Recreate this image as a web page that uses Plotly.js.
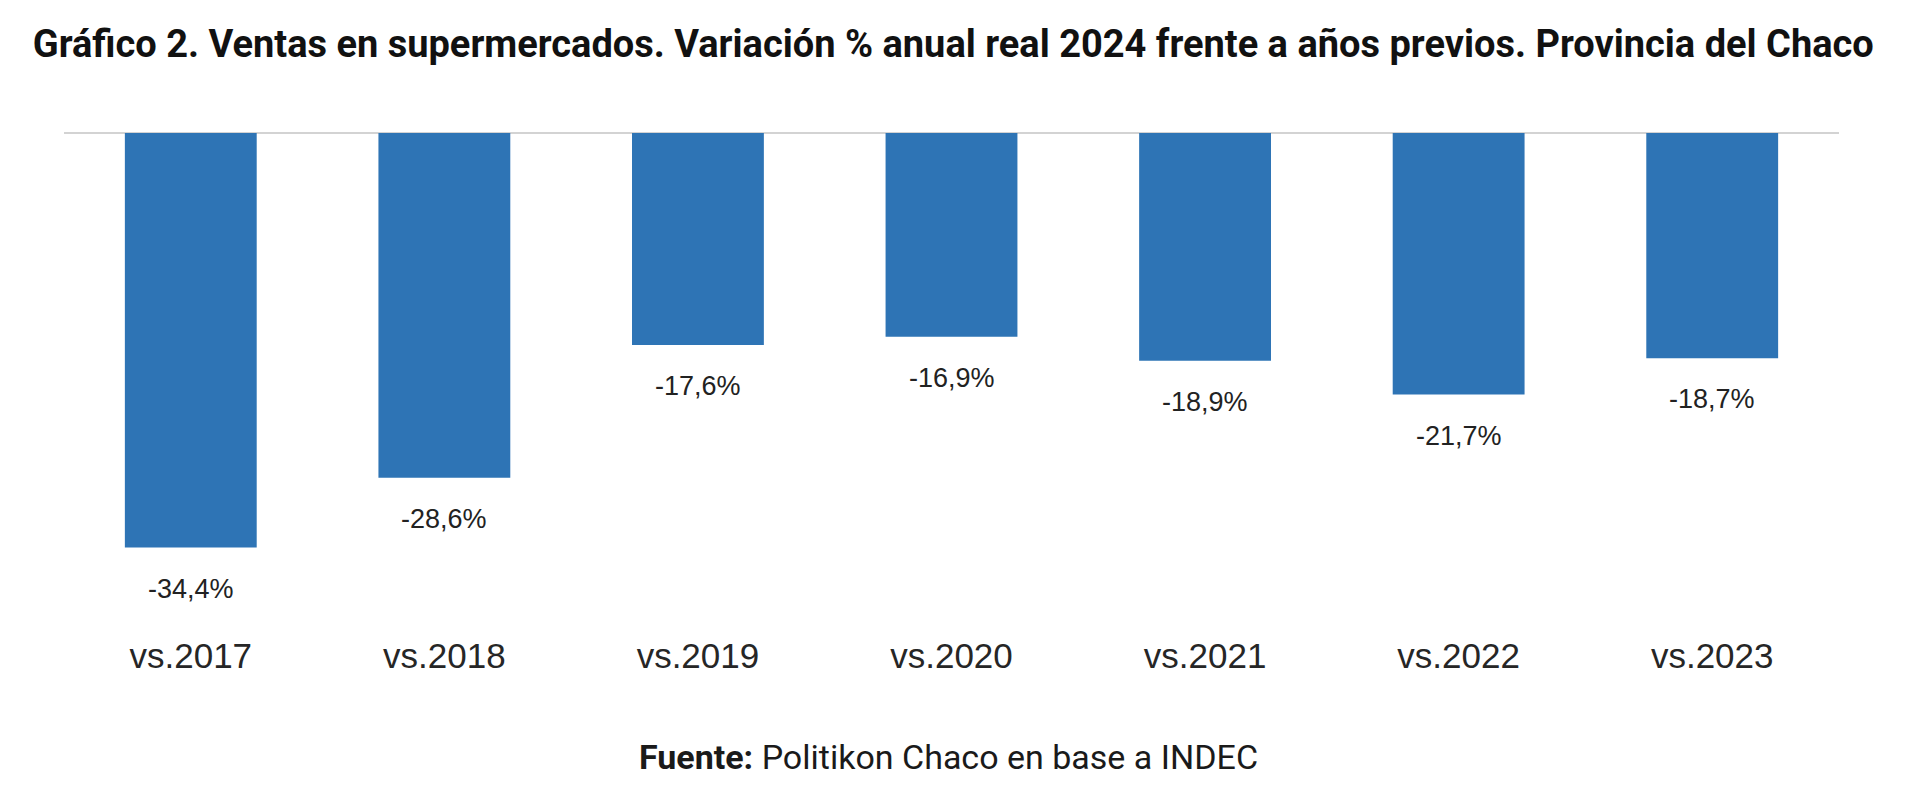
<!DOCTYPE html>
<html>
<head>
<meta charset="utf-8">
<script src="https://cdn.plot.ly/plotly-3.0.1.min.js"></script>
<style>
  html, body { margin: 0; padding: 0; background: #ffffff; }
  #chart { width: 1920px; height: 804px; }
</style>
</head>
<body>
<div id="chart"></div>
<script>
// Supermarket sales, Chaco: real % change of 2024 against each earlier year
const categories = ['vs.2017', 'vs.2018', 'vs.2019', 'vs.2020', 'vs.2021', 'vs.2022', 'vs.2023'];
const variation = [-34.4, -28.6, -17.6, -16.9, -18.9, -21.7, -18.7];

const barColor = '#2e74b5';
const headFont = 'Roboto, "Liberation Sans", Arial, sans-serif';
const regularFont = '"Liberation Sans", Arial, sans-serif';

// Spanish decimal comma for the value labels
const fmt = v => v.toFixed(1).replace('.', ',') + '%';

const trace = {
  type: 'bar',
  x: categories,
  y: variation,
  marker: { color: barColor, line: { width: 0 } },
  hoverinfo: 'x+y'
};

// Value labels placed a little below the end of each bar
const valueLabels = categories.map((c, i) => ({
  x: c,
  y: variation[i],
  xref: 'x',
  yref: 'y',
  text: fmt(variation[i]),
  showarrow: false,
  yanchor: 'middle',
  yshift: -41,
  font: { family: regularFont, size: 27, color: '#222222' }
}));

const source = {
  xref: 'paper', yref: 'paper',
  x: 0.4985, y: -0.292,
  xanchor: 'center', yanchor: 'middle',
  text: '<b>Fuente:</b> Politikon Chaco en base a INDEC',
  showarrow: false,
  font: { family: headFont, size: 34, color: '#1a1a1a' }
};

const layout = {
  width: 1920,
  height: 804,
  paper_bgcolor: '#ffffff',
  plot_bgcolor: '#ffffff',
  margin: { l: 64, r: 81, t: 127, b: 189 },
  showlegend: false,
  bargap: 0.48,
  title: {
    text: '<b>Gráfico 2. Ventas en supermercados. Variación % anual real 2024 frente a años previos. Provincia del Chaco</b>',
    x: 0.4965, xanchor: 'center', xref: 'container',
    y: 0.946, yanchor: 'middle', yref: 'container',
    font: { family: headFont, size: 38, color: '#111111' }
  },
  xaxis: {
    type: 'category',
    showgrid: false,
    showline: false,
    zeroline: false,
    ticks: 'outside',
    ticklen: 10,
    tickcolor: 'rgba(0,0,0,0)',
    tickfont: { family: regularFont, size: 35, color: '#262626' },
    fixedrange: true
  },
  yaxis: {
    range: [-40, 0.5],
    showgrid: false,
    showticklabels: false,
    ticks: '',
    showline: false,
    zeroline: true,
    zerolinecolor: '#d3d3d3',
    zerolinewidth: 2,
    fixedrange: true
  },
  annotations: valueLabels.concat([source])
};

Plotly.newPlot('chart', [trace], layout, { displayModeBar: false, responsive: false });
</script>
</body>
</html>
